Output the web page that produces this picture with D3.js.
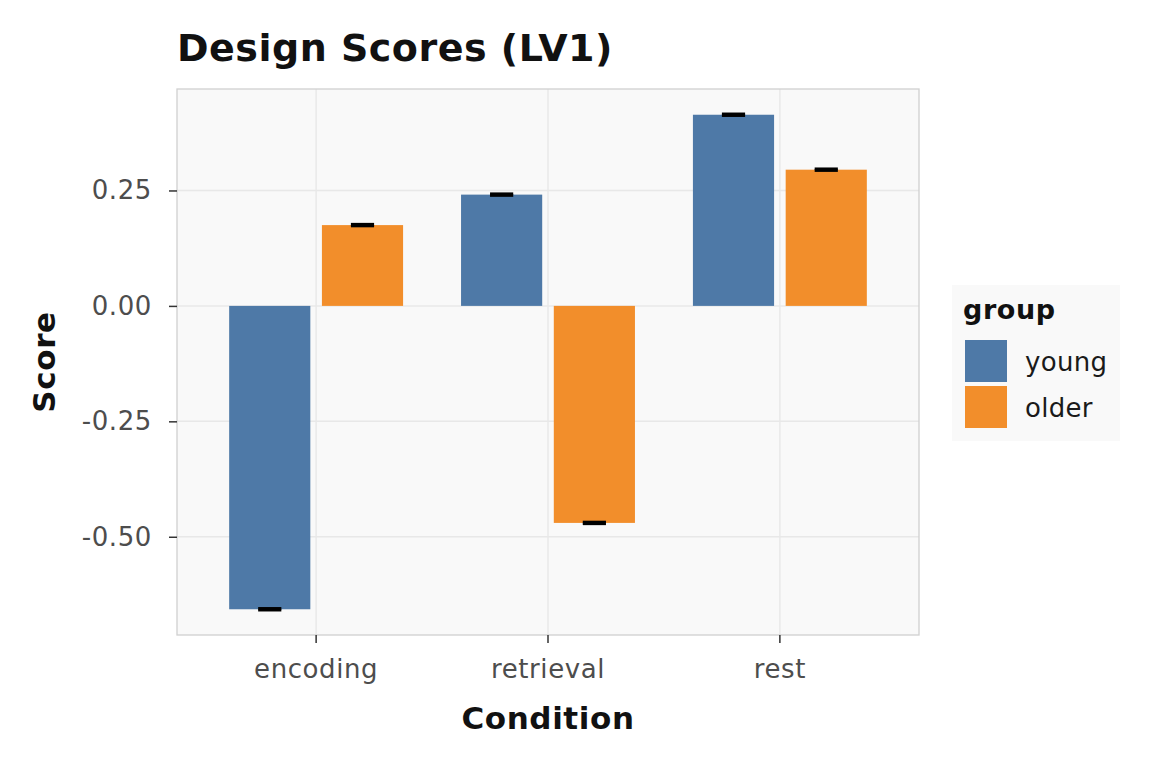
<!DOCTYPE html>
<html>
<head>
<meta charset="utf-8">
<script src="https://cdn.jsdelivr.net/npm/d3@7"></script>
<style>
  body { margin: 0; background: #fff; }
  svg { font-family: "DejaVu Sans", sans-serif; }
</style>
</head>
<body>
<svg id="chart"></svg>
<script>
// data
const conditions = ['encoding', 'retrieval', 'rest'];
const groups = ['young', 'older'];
const youngScores = [-0.657, 0.241, 0.414];
const olderScores = [0.175, -0.470, 0.295];
const youngSE = [0.002, 0.002, 0.002];
const olderSE = [0.002, 0.002, 0.002];
const yTicks = [-0.50, -0.25, 0.00, 0.25];
const groupColors = ['#4e79a7', '#f28e2b'];

const rows = [];
conditions.forEach((c, i) => {
    rows.push({condition: c, group: 'young', score: youngScores[i], se: youngSE[i]});
    rows.push({condition: c, group: 'older', score: olderScores[i], se: olderSE[i]});
});

const width = 1152, height = 768;
const margin = {top: 89, right: 233, bottom: 133, left: 177};
const innerW = width - margin.left - margin.right;
const innerH = height - margin.top - margin.bottom;

const svg = d3.select('#chart')
    .attr('width', width)
    .attr('height', height);

// ggplot-like 5% expansion on the y range
const lo = d3.min(rows, d => Math.min(0, d.score - d.se));
const hi = d3.max(rows, d => Math.max(0, d.score + d.se));
const pad = (hi - lo) * 0.05;

const xScale = d3.scaleBand()
    .domain(conditions)
    .range([0, innerW])
    .paddingInner(0)
    .paddingOuter(0.1);

const yScale = d3.scaleLinear()
    .domain([lo - pad, hi + pad])
    .range([innerH, 0]);

const colorScale = d3.scaleOrdinal().domain(groups).range(groupColors);

// position dodge 0.8, bar width 0.7
const unit = xScale.bandwidth();
const dodge = d3.scaleBand().domain(groups).range([-0.4 * unit, 0.4 * unit]);
const barW = 0.35 * unit;

const chart = svg.append('g')
    .attr('transform', `translate(${margin.left},${margin.top})`);

chart.append('rect')
    .attr('width', innerW)
    .attr('height', innerH)
    .attr('fill', '#f9f9f9');

// grid
chart.append('g')
    .selectAll('line')
    .data(yTicks)
    .join('line')
    .attr('x1', 0).attr('x2', innerW)
    .attr('y1', d => yScale(d)).attr('y2', d => yScale(d))
    .attr('stroke', '#e8e8e8').attr('stroke-width', 1.5);

chart.append('g')
    .selectAll('line')
    .data(conditions)
    .join('line')
    .attr('x1', d => xScale(d) + xScale.bandwidth() / 2)
    .attr('x2', d => xScale(d) + xScale.bandwidth() / 2)
    .attr('y1', 0).attr('y2', innerH)
    .attr('stroke', '#e8e8e8').attr('stroke-width', 1.5);

const cx = d => xScale(d.condition) + xScale.bandwidth() / 2 + dodge(d.group) + dodge.bandwidth() / 2;

chart.append('g')
    .selectAll('rect')
    .data(rows)
    .join('rect')
    .attr('x', d => cx(d) - barW / 2)
    .attr('width', barW)
    .attr('y', d => yScale(Math.max(0, d.score)))
    .attr('height', d => Math.abs(yScale(d.score) - yScale(0)))
    .attr('fill', d => colorScale(d.group));

// error bars
const ebW = 0.1 * unit;
const eb = chart.append('g')
    .selectAll('g')
    .data(rows)
    .join('g')
    .attr('stroke', '#000')
    .attr('stroke-width', 2.6);
eb.append('line')
    .attr('x1', d => cx(d)).attr('x2', d => cx(d))
    .attr('y1', d => yScale(d.score - d.se)).attr('y2', d => yScale(d.score + d.se));
eb.append('line')
    .attr('x1', d => cx(d) - ebW / 2).attr('x2', d => cx(d) + ebW / 2)
    .attr('y1', d => yScale(d.score + d.se)).attr('y2', d => yScale(d.score + d.se));
eb.append('line')
    .attr('x1', d => cx(d) - ebW / 2).attr('x2', d => cx(d) + ebW / 2)
    .attr('y1', d => yScale(d.score - d.se)).attr('y2', d => yScale(d.score - d.se));

// panel border
chart.append('rect')
    .attr('width', innerW)
    .attr('height', innerH)
    .attr('fill', 'none')
    .attr('stroke', '#d0d0d0')
    .attr('stroke-width', 1.3);

// axes
const xAxis = d3.axisBottom(xScale).tickSizeOuter(0).tickSize(8).tickPadding(17);
const yAxis = d3.axisLeft(yScale).tickValues(yTicks).tickFormat(d3.format('.2f'))
    .tickSizeOuter(0).tickSize(8).tickPadding(17);

const xAxisG = chart.append('g')
    .attr('transform', `translate(0,${innerH})`)
    .call(xAxis);
const yAxisG = chart.append('g').call(yAxis);

[xAxisG, yAxisG].forEach(g => {
    g.select('.domain').remove();
    g.selectAll('.tick line').attr('stroke', '#333').attr('stroke-width', 1.5);
    g.selectAll('.tick text')
        .attr('fill', '#4d4d4d')
        .style('font-size', '26px')
        .style('letter-spacing', '0.6px')
        .style('font-family', '"DejaVu Sans", sans-serif');
});
xAxisG.selectAll('.tick text').attr('dy', '0.71em');
yAxisG.selectAll('.tick text').text(d => d3.format('.2f')(d).replace('−', '-'));

// titles
svg.append('text')
    .attr('x', margin.left)
    .attr('y', 61)
    .attr('font-size', 38)
    .attr('font-weight', 'bold')
    .attr('letter-spacing', '0.5px')
    .attr('fill', '#111')
    .text('Design Scores (LV1)');

svg.append('text')
    .attr('x', margin.left + innerW / 2)
    .attr('y', 729)
    .attr('text-anchor', 'middle')
    .attr('font-size', 31)
    .attr('font-weight', 'bold')
    .attr('letter-spacing', '0.6px')
    .attr('fill', '#111')
    .text('Condition');

svg.append('text')
    .attr('transform', `translate(55,${margin.top + innerH / 2}) rotate(-90)`)
    .attr('text-anchor', 'middle')
    .attr('font-size', 31)
    .attr('font-weight', 'bold')
    .attr('letter-spacing', '0.6px')
    .attr('fill', '#111')
    .text('Score');

// legend
const legend = svg.append('g').attr('transform', 'translate(952,285)');
legend.append('rect')
    .attr('width', 168).attr('height', 156)
    .attr('fill', '#f9f9f9');
legend.append('text')
    .attr('x', 11).attr('y', 34)
    .attr('font-size', 27)
    .attr('font-weight', 'bold')
    .attr('letter-spacing', '0.6px')
    .attr('fill', '#111')
    .text('group');
const items = legend.selectAll('.item')
    .data(groups)
    .join('g')
    .attr('class', 'item')
    .attr('transform', (d, i) => `translate(13,${55 + i * 46})`);
items.append('rect')
    .attr('width', 42).attr('height', 42)
    .attr('fill', d => colorScale(d));
items.append('text')
    .attr('x', 60).attr('y', 31)
    .attr('font-size', 26)
    .attr('letter-spacing', '0.3px')
    .attr('fill', '#1a1a1a')
    .text(d => d);
</script>
</body>
</html>
